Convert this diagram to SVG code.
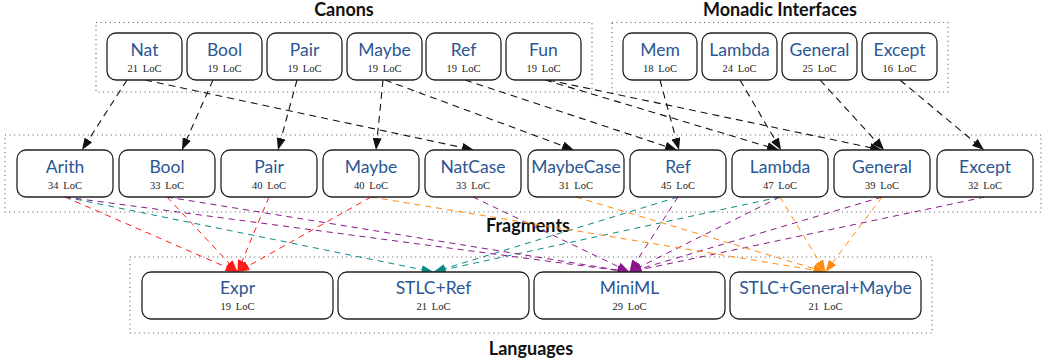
<svg xmlns="http://www.w3.org/2000/svg" width="1058" height="364" viewBox="0 0 1058 364">
<style>
.box{fill:#fff;stroke:#222;stroke-width:1.3}
.grp{fill:none;stroke:#555;stroke-width:1.1;stroke-dasharray:1 3.6}
.t{font-family:Lato,"Noto Sans",sans-serif;font-size:17.5px;fill:#2b5694;text-anchor:middle}
.l{font-family:"Liberation Serif",serif;font-size:10.5px;fill:#222;text-anchor:middle;word-spacing:2px}
.h{font-family:Lato,"Noto Sans",sans-serif;font-size:18px;font-weight:bold;fill:#111;text-anchor:middle}
.k{stroke:#111;stroke-width:1.1;stroke-dasharray:7 5;fill:none}
.r{stroke:#ff1a1a;stroke-width:1;stroke-dasharray:6 5;fill:none}
.c{stroke:#0a8a8a;stroke-width:1;stroke-dasharray:6 5;fill:none}
.p{stroke:#8a168a;stroke-width:1;stroke-dasharray:6 5;fill:none}
.o{stroke:#ff8a0a;stroke-width:1;stroke-dasharray:6 5;fill:none}
</style>
<defs>
<marker id="ak" markerUnits="userSpaceOnUse" markerWidth="12" markerHeight="9" refX="12" refY="4.5" orient="auto"><path d="M0,0 L12,4.5 L0,9 z" fill="#111"/></marker>
<marker id="ar" markerUnits="userSpaceOnUse" markerWidth="12" markerHeight="9" refX="12" refY="4.5" orient="auto"><path d="M0,0 L12,4.5 L0,9 z" fill="#ff1a1a"/></marker>
<marker id="ac" markerUnits="userSpaceOnUse" markerWidth="12" markerHeight="9" refX="12" refY="4.5" orient="auto"><path d="M0,0 L12,4.5 L0,9 z" fill="#0a8a8a"/></marker>
<marker id="ap" markerUnits="userSpaceOnUse" markerWidth="12" markerHeight="9" refX="12" refY="4.5" orient="auto"><path d="M0,0 L12,4.5 L0,9 z" fill="#8a168a"/></marker>
<marker id="ao" markerUnits="userSpaceOnUse" markerWidth="12" markerHeight="9" refX="12" refY="4.5" orient="auto"><path d="M0,0 L12,4.5 L0,9 z" fill="#ff8a0a"/></marker>
</defs>
<rect width="1058" height="364" fill="#fff"/>

<g id="groups">
<rect class="grp" x="96" y="22.5" width="496" height="69.5"/>
<rect class="grp" x="612" y="22.5" width="336" height="69.5"/>
<rect class="grp" x="5" y="135" width="1036" height="77"/>
<rect class="grp" x="130" y="257" width="802" height="76"/>
<text class="h" x="344" y="16">Canons</text>
<text class="h" x="780" y="16">Monadic Interfaces</text>
<text class="h" x="528" y="232">Fragments</text>
<text class="h" x="531" y="355">Languages</text>
</g>

<g id="connectors">
<line class="k" x1="127" y1="80" x2="82" y2="150" marker-end="url(#ak)"/>
<line class="k" x1="145" y1="80" x2="474" y2="150" marker-end="url(#ak)"/>
<line class="k" x1="213" y1="80" x2="182" y2="150" marker-end="url(#ak)"/>
<line class="k" x1="297" y1="80" x2="278" y2="150" marker-end="url(#ak)"/>
<line class="k" x1="383" y1="80" x2="376" y2="150" marker-end="url(#ak)"/>
<line class="k" x1="385" y1="80" x2="574" y2="150" marker-end="url(#ak)"/>
<line class="k" x1="465" y1="80" x2="677" y2="150" marker-end="url(#ak)"/>
<line class="k" x1="545" y1="80" x2="779" y2="150" marker-end="url(#ak)"/>
<line class="k" x1="548" y1="80" x2="882" y2="150" marker-end="url(#ak)"/>
<line class="k" x1="660" y1="80" x2="679" y2="150" marker-end="url(#ak)"/>
<line class="k" x1="740" y1="80" x2="781" y2="150" marker-end="url(#ak)"/>
<line class="k" x1="820" y1="80" x2="884" y2="150" marker-end="url(#ak)"/>
<line class="k" x1="900" y1="80" x2="984" y2="150" marker-end="url(#ak)"/>

<line class="r" x1="65" y1="197" x2="237.5" y2="272" marker-end="url(#ar)"/>
<line class="r" x1="167" y1="197" x2="237.5" y2="272" marker-end="url(#ar)"/>
<line class="r" x1="269" y1="197" x2="237.5" y2="272" marker-end="url(#ar)"/>
<line class="r" x1="371" y1="197" x2="237.5" y2="272" marker-end="url(#ar)"/>

<line class="c" x1="65" y1="197" x2="433.5" y2="272" marker-end="url(#ac)"/>
<line class="c" x1="678" y1="197" x2="433.5" y2="272" marker-end="url(#ac)"/>
<line class="c" x1="780" y1="197" x2="433.5" y2="272" marker-end="url(#ac)"/>

<line class="p" x1="65" y1="197" x2="629.5" y2="272" marker-end="url(#ap)"/>
<line class="p" x1="167" y1="197" x2="629.5" y2="272" marker-end="url(#ap)"/>
<line class="p" x1="473" y1="197" x2="629.5" y2="272" marker-end="url(#ap)"/>
<line class="p" x1="678" y1="197" x2="629.5" y2="272" marker-end="url(#ap)"/>
<line class="p" x1="780" y1="197" x2="629.5" y2="272" marker-end="url(#ap)"/>
<line class="p" x1="882" y1="197" x2="629.5" y2="272" marker-end="url(#ap)"/>
<line class="p" x1="985" y1="197" x2="629.5" y2="272" marker-end="url(#ap)"/>

<line class="o" x1="371" y1="197" x2="825.5" y2="272" marker-end="url(#ao)"/>
<line class="o" x1="576" y1="197" x2="825.5" y2="272" marker-end="url(#ao)"/>
<line class="o" x1="780" y1="197" x2="825.5" y2="272" marker-end="url(#ao)"/>
<line class="o" x1="882" y1="197" x2="825.5" y2="272" marker-end="url(#ao)"/>
</g>

<g id="canon-nat"><rect class="box" x="107" y="33" width="75" height="47" rx="9"/><text class="t" x="144.5" y="55.5">Nat</text><text class="l" x="144.5" y="72">21 LoC</text></g>
<g id="canon-bool"><rect class="box" x="187" y="33" width="75" height="47" rx="9"/><text class="t" x="224.5" y="55.5">Bool</text><text class="l" x="224.5" y="72">19 LoC</text></g>
<g id="canon-pair"><rect class="box" x="267" y="33" width="75" height="47" rx="9"/><text class="t" x="304.5" y="55.5">Pair</text><text class="l" x="304.5" y="72">19 LoC</text></g>
<g id="canon-maybe"><rect class="box" x="347" y="33" width="75" height="47" rx="9"/><text class="t" x="384.5" y="55.5">Maybe</text><text class="l" x="384.5" y="72">19 LoC</text></g>
<g id="canon-ref"><rect class="box" x="426" y="33" width="75" height="47" rx="9"/><text class="t" x="463.5" y="55.5">Ref</text><text class="l" x="463.5" y="72">19 LoC</text></g>
<g id="canon-fun"><rect class="box" x="506" y="33" width="75" height="47" rx="9"/><text class="t" x="543.5" y="55.5">Fun</text><text class="l" x="543.5" y="72">19 LoC</text></g>

<g id="mon-mem"><rect class="box" x="623" y="33" width="74" height="47" rx="9"/><text class="t" x="660" y="55.5">Mem</text><text class="l" x="660" y="72">18 LoC</text></g>
<g id="mon-lambda"><rect class="box" x="702" y="33" width="75" height="47" rx="9"/><text class="t" x="739.5" y="55.5">Lambda</text><text class="l" x="739.5" y="72">24 LoC</text></g>
<g id="mon-general"><rect class="box" x="782" y="33" width="75" height="47" rx="9"/><text class="t" x="819.5" y="55.5">General</text><text class="l" x="819.5" y="72">25 LoC</text></g>
<g id="mon-except"><rect class="box" x="862" y="33" width="75" height="47" rx="9"/><text class="t" x="899.5" y="55.5">Except</text><text class="l" x="899.5" y="72">16 LoC</text></g>

<g id="frag-arith"><rect class="box" x="17" y="150" width="96" height="47" rx="9"/><text class="t" x="65" y="173">Arith</text><text class="l" x="65" y="188.5">34 LoC</text></g>
<g id="frag-bool"><rect class="box" x="119" y="150" width="96" height="47" rx="9"/><text class="t" x="167" y="173">Bool</text><text class="l" x="167" y="188.5">33 LoC</text></g>
<g id="frag-pair"><rect class="box" x="221" y="150" width="96" height="47" rx="9"/><text class="t" x="269" y="173">Pair</text><text class="l" x="269" y="188.5">40 LoC</text></g>
<g id="frag-maybe"><rect class="box" x="323" y="150" width="96" height="47" rx="9"/><text class="t" x="371" y="173">Maybe</text><text class="l" x="371" y="188.5">40 LoC</text></g>
<g id="frag-natcase"><rect class="box" x="425" y="150" width="96" height="47" rx="9"/><text class="t" x="473" y="173">NatCase</text><text class="l" x="473" y="188.5">33 LoC</text></g>
<g id="frag-maybecase"><rect class="box" x="528" y="150" width="96" height="47" rx="9"/><text class="t" x="576" y="173">MaybeCase</text><text class="l" x="576" y="188.5">31 LoC</text></g>
<g id="frag-ref"><rect class="box" x="630" y="150" width="96" height="47" rx="9"/><text class="t" x="678" y="173">Ref</text><text class="l" x="678" y="188.5">45 LoC</text></g>
<g id="frag-lambda"><rect class="box" x="732" y="150" width="96" height="47" rx="9"/><text class="t" x="780" y="173">Lambda</text><text class="l" x="780" y="188.5">47 LoC</text></g>
<g id="frag-general"><rect class="box" x="834" y="150" width="96" height="47" rx="9"/><text class="t" x="882" y="173">General</text><text class="l" x="882" y="188.5">39 LoC</text></g>
<g id="frag-except"><rect class="box" x="937" y="150" width="96" height="47" rx="9"/><text class="t" x="985" y="173">Except</text><text class="l" x="985" y="188.5">32 LoC</text></g>

<g id="lang-expr"><rect class="box" x="142" y="272" width="191" height="47" rx="9"/><text class="t" x="237.5" y="294">Expr</text><text class="l" x="237.5" y="310">19 LoC</text></g>
<g id="lang-stlcref"><rect class="box" x="338" y="272" width="191" height="47" rx="9"/><text class="t" x="433.5" y="294">STLC+Ref</text><text class="l" x="433.5" y="310">21 LoC</text></g>
<g id="lang-miniml"><rect class="box" x="534" y="272" width="191" height="47" rx="9"/><text class="t" x="629.5" y="294">MiniML</text><text class="l" x="629.5" y="310">29 LoC</text></g>
<g id="lang-sgm"><rect class="box" x="730" y="272" width="191" height="47" rx="9"/><text class="t" x="825.5" y="294">STLC+General+Maybe</text><text class="l" x="825.5" y="310">21 LoC</text></g>
</svg>
